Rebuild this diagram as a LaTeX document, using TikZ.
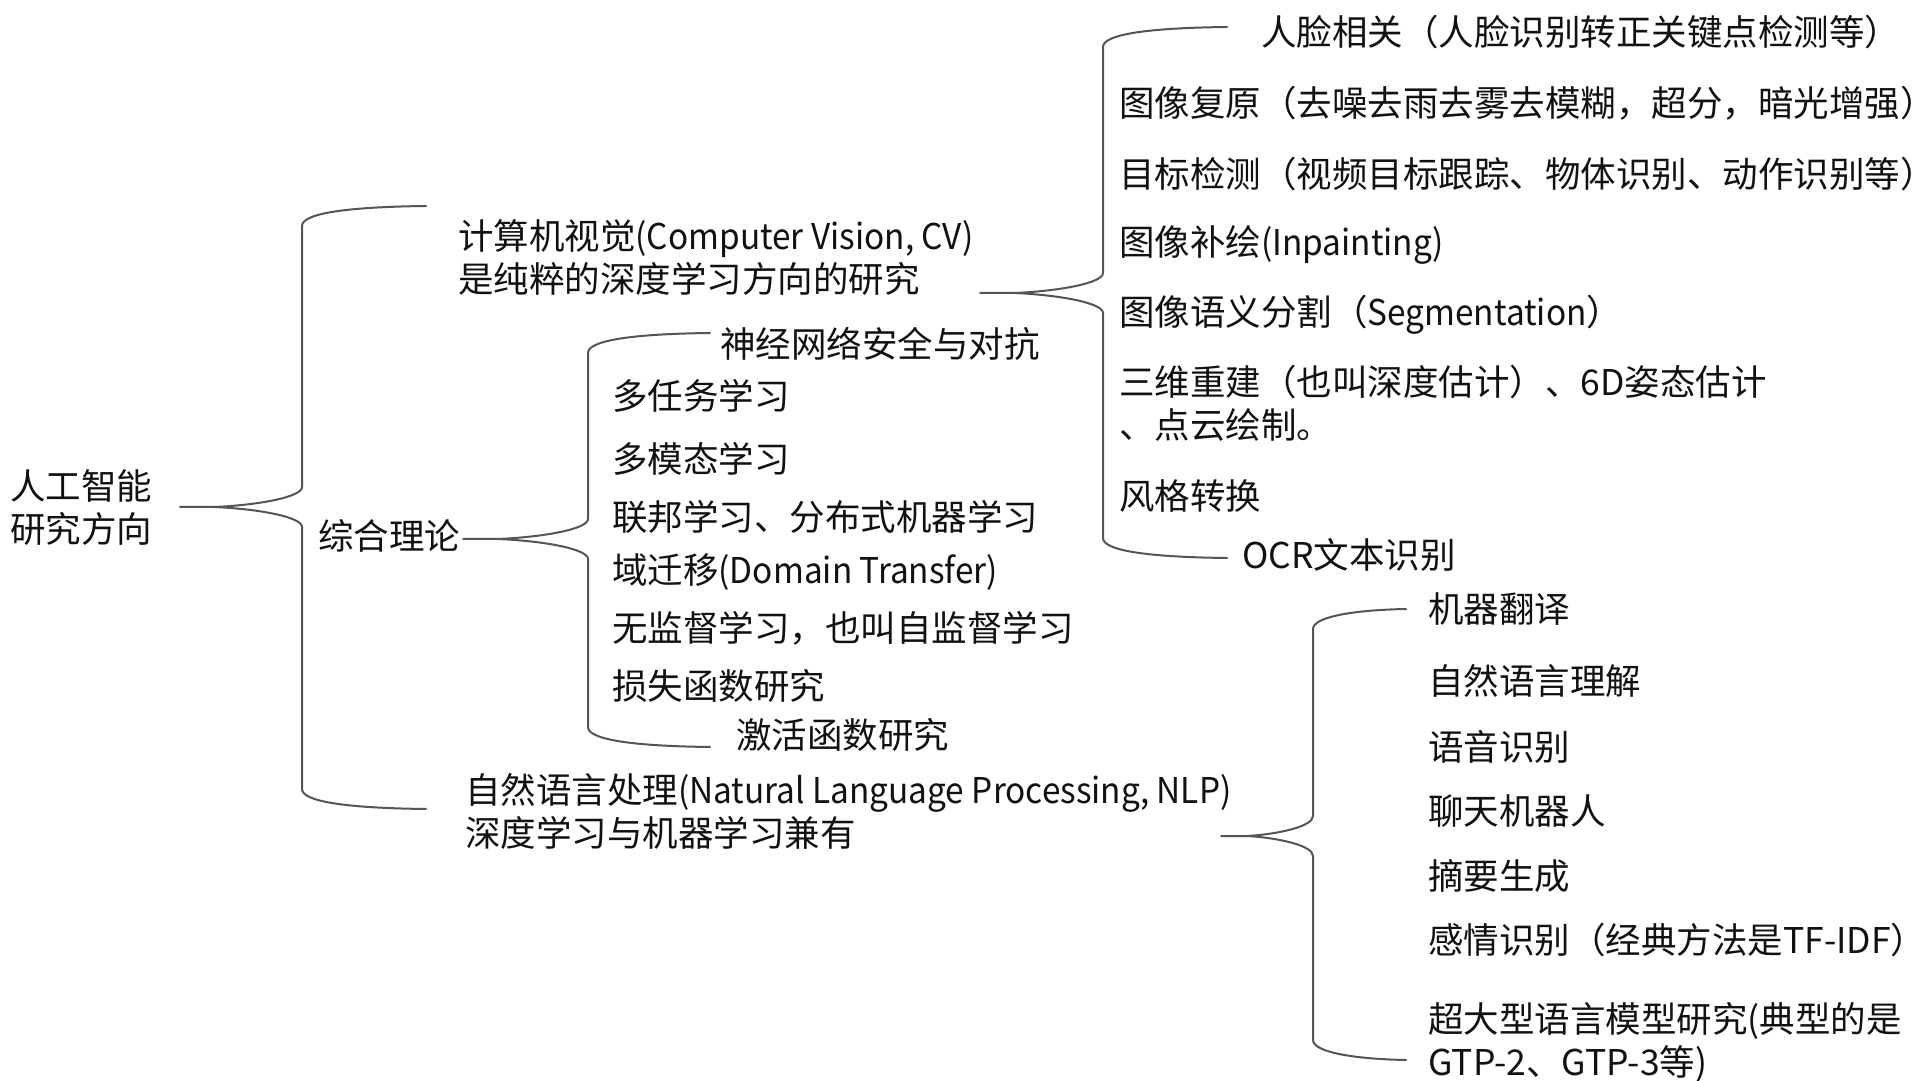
\documentclass[tikz,border=0pt]{standalone}
\usepackage{fontspec}
\setmainfont{Noto Sans CJK SC}
\newfontfamily\latn[FakeStretch=0.94]{Noto Sans CJK SC}
\usetikzlibrary{calc}
\definecolor{linegray}{HTML}{555555}
\definecolor{txtcol}{HTML}{111111}
\tikzset{
  txt/.style={anchor=west, inner sep=0pt, align=left, text=txtcol,
    font=\fontsize{35.5}{43}\selectfont},
  bracestyle/.style={draw=linegray, line width=2pt, line cap=round, line join=round}
}
% #1 prefix, #2 tip x, #3 mid Y, #4 vertical x, #5 top Y, #6 bottom Y, #7 end x
\newcommand\mybrace[7]{%
  \coordinate (#1tip) at (#2,#3);
  \coordinate (#1top) at (#7,#5);
  \coordinate (#1bot) at (#7,#6);
  \coordinate (#1cusp) at ({#2+0.28*(#4-#2)},#3);
  \draw[bracestyle] (#1top) .. controls ({#4+40},{#5-1}) and (#4,{#5-8}) .. (#4,{#5-20})
     -- (#4,{#3+20}) .. controls (#4,{#3+10}) and ({#4-0.35*(#4-#2)},{#3+2}) .. (#1cusp) -- (#1tip);
  \draw[bracestyle] (#1cusp) .. controls ({#4-0.35*(#4-#2)},{#3-2}) and (#4,{#3-10}) .. (#4,{#3-20})
     -- (#4,{#6+20}) .. controls (#4,{#6+8}) and ({#4+40},{#6+1}) .. (#1bot);
}
\begin{document}
\begin{tikzpicture}[x=1pt,y=1pt]
\useasboundingbox (0,0) rectangle (1920,1080);
\fill[white] (0,0) rectangle (1920,1080);

% root and first level
\node[txt] (root) at (10,572.5) {人工智能\\研究方向};
\node[txt] (cv) at (458,822.5) {计算机视觉{\latn(Computer Vision, CV)}\\是纯粹的深度学习方向的研究};
\node[txt] (zh) at (318,544) {综合理论};
\node[txt] (nlp) at (465,268.5) {自然语言处理{\latn(Natural Language Processing, NLP)}\\深度学习与机器学习兼有};

% CV children
\node[txt] (c1) at (1261,1048) {人脸相关（人脸识别转正关键点检测等）};
\node[txt] (c2) at (1119,977) {图像复原（去噪去雨去雾去模糊，超分，暗光增强）};
\node[txt] (c3) at (1119,906) {目标检测（视频目标跟踪、物体识别、动作识别等）};
\node[txt] (c4) at (1119,835) {图像补绘{\latn(Inpainting)}};
\node[txt] (c5) at (1119,765) {图像语义分割（{\latn Segmentation}）};
\node[txt] (c6) at (1119,676.5) {三维重建（也叫深度估计）、6D姿态估计\\、点云绘制。};
\node[txt] (c7) at (1119,584) {风格转换};
\node[txt] (c8) at (1242,525) {OCR文本识别};

% theory children
\node[txt] (z1) at (720,736) {神经网络安全与对抗};
\node[txt] (z2) at (612,684.5) {多任务学习};
\node[txt] (z3) at (612,621) {多模态学习};
\node[txt] (z4) at (612,563) {联邦学习、分布式机器学习};
\node[txt] (z5) at (612,508) {域迁移{\latn(Domain Transfer)}};
\node[txt] (z6) at (612,452) {无监督学习，也叫自监督学习};
\node[txt] (z7) at (612,394) {损失函数研究};
\node[txt] (z8) at (736,345) {激活函数研究};

% NLP children
\node[txt] (n1) at (1428,471) {机器翻译};
\node[txt] (n2) at (1428,399) {自然语言理解};
\node[txt] (n3) at (1428,333) {语音识别};
\node[txt] (n4) at (1428,269) {聊天机器人};
\node[txt] (n5) at (1428,204.5) {摘要生成};
\node[txt] (n6) at (1428,139.6) {感情识别（经典方法是TF-IDF）};
\node[txt] (n7) at (1428,37.3) {超大型语言模型研究(典型的是\\GTP-2、GTP-3等)};

% braces
\mybrace{root}{180}{573}{302}{874}{271}{426}
\mybrace{cvb}{980}{787}{1103}{1053}{522}{1227}
\mybrace{zhb}{463}{541}{588}{747}{333}{710}
\mybrace{nlpb}{1221}{244}{1313}{471}{20}{1406}
\end{tikzpicture}
\end{document}
